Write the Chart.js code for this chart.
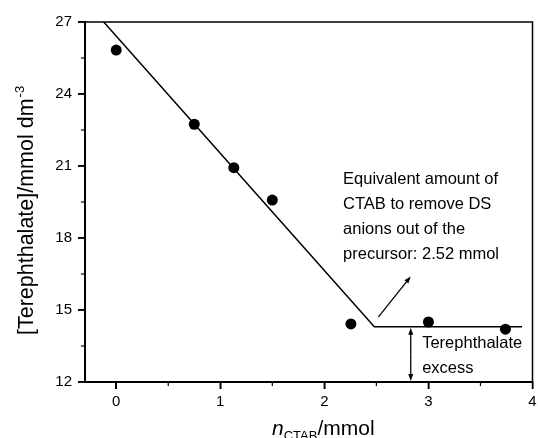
<!DOCTYPE html>
<html>
<head>
<meta charset="utf-8">
<script src="https://cdn.jsdelivr.net/npm/chart.js@4"></script>
<style>
  html, body { margin: 0; padding: 0; background: #fff; }
  #wrap { width: 538px; height: 438px; }
</style>
</head>
<body>
<div id="wrap"><canvas id="myChart" width="538" height="438"></canvas></div>
<script>
// measured points
const nCtab = [0, 0.75, 1.13, 1.5, 2.255, 3.0, 3.74];
const terephthalate = [25.83, 22.74, 20.93, 19.58, 14.42, 14.5, 14.2];

// fitted broken line
const fitX = [-0.12, 2.48, 3.9];
const fitY = [27, 14.3, 14.3];

// tick labels
const xTicks = [0, 1, 2, 3, 4];
const yTicks = [12, 15, 18, 21, 24, 27];
const xMinor = [0.5, 1.5, 2.5, 3.5];
const yMinor = [13.5, 16.5, 19.5, 22.5, 25.5];

const FONT = "'Liberation Sans', Arial, sans-serif";

function drawArrow(ctx, x1, y1, x2, y2) {
    const a = Math.atan2(y2 - y1, x2 - x1);
    const len = 7, w = 2.5;
    ctx.beginPath();
    ctx.moveTo(x1, y1);
    ctx.lineTo(x2 - Math.cos(a) * 4, y2 - Math.sin(a) * 4);
    ctx.stroke();
    ctx.beginPath();
    ctx.moveTo(x2, y2);
    ctx.lineTo(x2 - len * Math.cos(a) + w * Math.sin(a), y2 - len * Math.sin(a) - w * Math.cos(a));
    ctx.lineTo(x2 - len * Math.cos(a) - w * Math.sin(a), y2 - len * Math.sin(a) + w * Math.cos(a));
    ctx.closePath();
    ctx.fill();
}

// frame, ticks, titles and notes
const extras = {
    id: 'extras',
    afterDraw(chart) {
        const ctx = chart.ctx;
        const xs = chart.scales.x, ys = chart.scales.y;
        const area = chart.chartArea;
        ctx.save();
        ctx.strokeStyle = '#000';
        ctx.fillStyle = '#000';

        // top and right border
        ctx.lineWidth = 1.5;
        ctx.beginPath();
        ctx.moveTo(area.left, area.top);
        ctx.lineTo(area.right, area.top);
        ctx.lineTo(area.right, area.bottom);
        ctx.stroke();

        // major ticks
        xTicks.forEach(v => {
            const px = xs.getPixelForValue(v);
            ctx.beginPath();
            ctx.moveTo(px, area.bottom);
            ctx.lineTo(px, area.bottom + 7);
            ctx.stroke();
        });
        yTicks.forEach(v => {
            const py = ys.getPixelForValue(v);
            ctx.beginPath();
            ctx.moveTo(area.left, py);
            ctx.lineTo(area.left - 7, py);
            ctx.stroke();
        });

        // minor ticks
        ctx.lineWidth = 1.2;
        xMinor.forEach(v => {
            const px = xs.getPixelForValue(v);
            ctx.beginPath();
            ctx.moveTo(px, area.bottom);
            ctx.lineTo(px, area.bottom + 4);
            ctx.stroke();
        });
        yMinor.forEach(v => {
            const py = ys.getPixelForValue(v);
            ctx.beginPath();
            ctx.moveTo(area.left, py);
            ctx.lineTo(area.left - 4, py);
            ctx.stroke();
        });

        // y title
        ctx.save();
        ctx.translate(33, 335);
        ctx.rotate(-Math.PI / 2);
        ctx.font = '21.5px ' + FONT;
        ctx.textAlign = 'left';
        ctx.textBaseline = 'alphabetic';
        const main = '[Terephthalate]/mmol dm';
        ctx.fillText(main, 0, 0);
        const w = ctx.measureText(main).width;
        ctx.font = '13px ' + FONT;
        ctx.fillText('-3', w + 1, -9);
        ctx.restore();

        // x title
        ctx.textAlign = 'left';
        ctx.textBaseline = 'alphabetic';
        let x = 272;
        ctx.font = 'italic 21px ' + FONT;
        ctx.fillText('n', x, 435);
        x += ctx.measureText('n').width;
        ctx.font = '13px ' + FONT;
        ctx.fillText('CTAB', x, 440);
        x += ctx.measureText('CTAB').width;
        ctx.font = '21px ' + FONT;
        ctx.fillText('/mmol', x, 435);

        // notes
        ctx.font = '16.5px ' + FONT;
        const noteX = xs.getPixelForValue(2.18);
        const lines = ['Equivalent amount of', 'CTAB to remove DS', 'anions out of the', 'precursor: 2.52 mmol'];
        lines.forEach((t, i) => ctx.fillText(t, noteX, 183.5 + i * 25));
        const exX = xs.getPixelForValue(2.94);
        ctx.fillText('Terephthalate', exX, 348);
        ctx.fillText('excess', exX, 373);

        // arrows
        ctx.lineWidth = 1.3;
        drawArrow(ctx, xs.getPixelForValue(2.52), ys.getPixelForValue(14.71),
            xs.getPixelForValue(2.83), ys.getPixelForValue(16.4));
        const ax = xs.getPixelForValue(2.83);
        const yTop = ys.getPixelForValue(14.3), yBot = ys.getPixelForValue(12);
        drawArrow(ctx, ax, (yTop + yBot) / 2, ax, yTop + 1);
        drawArrow(ctx, ax, (yTop + yBot) / 2, ax, yBot - 1);

        ctx.restore();
    }
};

const ctx = document.getElementById('myChart').getContext('2d');
const myChart = new Chart(ctx, {
    type: 'scatter',
    data: {
        datasets: [{
            label: 'fit',
            data: fitX.map((v, i) => ({ x: v, y: fitY[i] })),
            showLine: true,
            borderColor: '#000',
            borderWidth: 1.5,
            pointRadius: 0,
            tension: 0
        }, {
            label: 'measured',
            data: nCtab.map((v, i) => ({ x: v, y: terephthalate[i] })),
            showLine: false,
            pointRadius: 5.5,
            pointBackgroundColor: '#000',
            pointBorderColor: '#000',
            pointBorderWidth: 0
        }]
    },
    options: {
        responsive: false,
        animation: false,
        layout: { padding: { left: 0, top: 22, right: 4, bottom: 0 } },
        plugins: { legend: { display: false }, tooltip: { enabled: false } },
        scales: {
            x: {
                type: 'linear',
                min: -0.3,
                max: 4,
                afterBuildTicks: s => { s.ticks = xTicks.map(v => ({ value: v })); },
                afterFit: s => { s.height = 56; s.paddingLeft = 0; s.paddingRight = 0; },
                border: { display: true, color: '#000', width: 2 },
                grid: { drawOnChartArea: false, drawTicks: true, tickLength: 7, color: '#000', lineWidth: 1.5 },
                ticks: { color: '#000', padding: 4, font: { family: FONT, size: 15 }, maxRotation: 0 }
            },
            y: {
                type: 'linear',
                min: 12,
                max: 27,
                afterBuildTicks: s => { s.ticks = yTicks.map(v => ({ value: v })); },
                afterFit: s => { s.width = 85; s.paddingTop = 0; s.paddingBottom = 0; },
                border: { display: true, color: '#000', width: 2 },
                grid: { drawOnChartArea: false, drawTicks: true, tickLength: 7, color: '#000', lineWidth: 1.5 },
                ticks: { color: '#000', padding: 6, font: { family: FONT, size: 15 } }
            }
        }
    },
    plugins: [extras]
});
</script>
</body>
</html>
